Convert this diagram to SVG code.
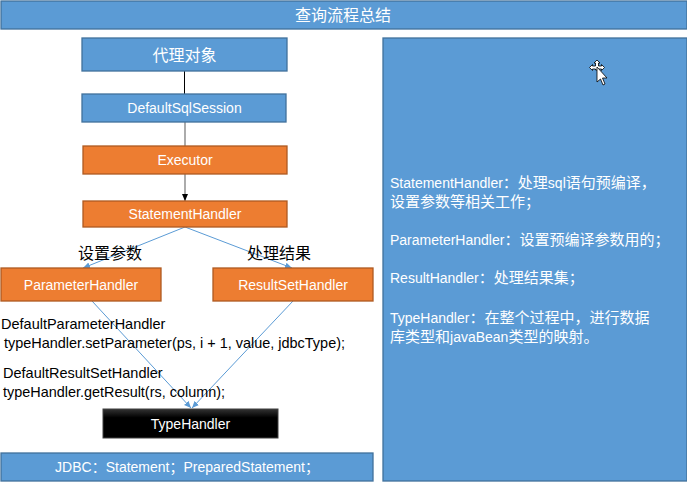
<svg xmlns="http://www.w3.org/2000/svg" width="687" height="482" viewBox="0 0 687 482">
<style>
text{font-family:"Liberation Sans","Noto Sans CJK SC",sans-serif;}
.blue{fill:#5B9BD5;stroke:#41719C;stroke-width:1.3;}
.orange{fill:#ED7D31;stroke:#AE5A21;stroke-width:1.3;}
.wt{fill:#fff;font-size:14px;text-anchor:middle;}
.cj{fill:#fff;font-size:16px;text-anchor:middle;font-family:"Noto Sans CJK SC",sans-serif;}
.bk{fill:#000;font-size:14.5px;}
.rt{fill:#fff;font-size:15px;font-family:"Noto Sans CJK SC",sans-serif;}
.lt{font-family:"Liberation Sans",sans-serif;font-size:14px;}
.conn{stroke:#5B9BD5;stroke-width:1;fill:none;}
</style>
<defs>
<marker id="ab" markerWidth="8" markerHeight="8" refX="7" refY="4" orient="auto" markerUnits="userSpaceOnUse">
<path d="M0,1 L7,4 L0,7 z" fill="#5B9BD5"/>
</marker>
<marker id="ak" markerWidth="8" markerHeight="8" refX="7" refY="4" orient="auto" markerUnits="userSpaceOnUse">
<path d="M0,1 L7,4 L0,7 z" fill="#000"/>
</marker>
<linearGradient id="tg" x1="0" y1="0" x2="0" y2="1">
<stop offset="0" stop-color="#333"/>
<stop offset="0.3" stop-color="#000"/>
<stop offset="1" stop-color="#000"/>
</linearGradient>
</defs>
<rect x="0" y="0" width="687" height="482" fill="#fff"/>
<g id="title">
<rect class="blue" x="1" y="1" width="686" height="28"/>
<text class="cj" x="343" y="21">查询流程总结</text>
</g>
<g id="connectors">
<line x1="184.5" y1="71" x2="184.5" y2="94" stroke="#000" stroke-width="1"/>
<line x1="185" y1="122" x2="185" y2="146" stroke="#7f7f7f" stroke-width="1.3"/>
<line x1="185" y1="174" x2="185" y2="201" stroke="#7f7f7f" stroke-width="1.3" marker-end="url(#ak)"/>
<line class="conn" x1="185" y1="227" x2="83" y2="268" marker-end="url(#ab)"/>
<line class="conn" x1="185" y1="227" x2="292" y2="268" marker-end="url(#ab)"/>
<line class="conn" x1="92" y1="301" x2="191" y2="408" marker-end="url(#ab)"/>
<line class="conn" x1="293" y1="301" x2="192" y2="408" marker-end="url(#ab)"/>
</g>
<g id="proxy">
<rect class="blue" x="82" y="38" width="205" height="33"/>
<text class="cj" x="184.5" y="61">代理对象</text>
</g>
<g id="sqlsession">
<rect class="blue" x="82" y="94" width="204" height="28"/>
<text class="wt" x="184.5" y="113">DefaultSqlSession</text>
</g>
<g id="executor">
<rect class="orange" x="83" y="146" width="204" height="28"/>
<text class="wt" x="185" y="165">Executor</text>
</g>
<g id="statementhandler">
<rect class="orange" x="83" y="201" width="204" height="26"/>
<text class="wt" x="185" y="219">StatementHandler</text>
</g>
<g id="label-set">
<text x="78" y="259" style="fill:#000;font-size:16px;font-family:'Noto Sans CJK SC',sans-serif">设置参数</text>
</g>
<g id="label-result">
<text x="247" y="259" style="fill:#000;font-size:16px;font-family:'Noto Sans CJK SC',sans-serif">处理结果</text>
</g>
<g id="parameterhandler">
<rect class="orange" x="1" y="268" width="160" height="33"/>
<text class="wt" x="81" y="290">ParameterHandler</text>
</g>
<g id="resultsethandler">
<rect class="orange" x="213" y="268" width="160" height="33"/>
<text class="wt" x="293" y="290">ResultSetHandler</text>
</g>
<g id="code">
<text class="bk" x="1" y="329">DefaultParameterHandler</text>
<text class="bk" x="4" y="348" textLength="341" lengthAdjust="spacingAndGlyphs">typeHandler.setParameter(ps, i + 1, value, jdbcType);</text>
<text class="bk" x="3" y="378">DefaultResultSetHandler</text>
<text class="bk" x="3" y="397" textLength="222" lengthAdjust="spacingAndGlyphs">typeHandler.getResult(rs, column);</text>
</g>
<g id="typehandler">
<rect x="103" y="409" width="175" height="29" fill="url(#tg)" stroke="#404040" stroke-width="1"/>
<text class="wt" x="190.5" y="429">TypeHandler</text>
</g>
<g id="jdbc">
<rect class="blue" x="1" y="453" width="372" height="28"/>
<text class="wt" x="187" y="472"><tspan>JDBC</tspan><tspan style="font-family:'Noto Sans CJK SC',sans-serif">：</tspan><tspan>Statement</tspan><tspan style="font-family:'Noto Sans CJK SC',sans-serif">；</tspan><tspan>PreparedStatement</tspan><tspan style="font-family:'Noto Sans CJK SC',sans-serif">；</tspan></text>
</g>
<g id="notes">
<rect class="blue" x="383" y="38" width="304" height="443"/>
<text class="rt" x="390" y="188"><tspan class="lt">StatementHandler</tspan>：处理<tspan class="lt">sql</tspan>语句预编译，</text>
<text class="rt" x="390" y="207">设置参数等相关工作；</text>
<text class="rt" x="390" y="245"><tspan class="lt">ParameterHandler</tspan>：设置预编译参数用的；</text>
<text class="rt" x="390" y="283"><tspan class="lt">ResultHandler</tspan>：处理结果集；</text>
<text class="rt" x="390" y="323"><tspan class="lt">TypeHandler</tspan>：在整个过程中，进行数据</text>
<text class="rt" x="390" y="342">库类型和<tspan class="lt">javaBean</tspan>类型的映射。</text>
</g>
<g id="cursor" stroke="#000" stroke-width="0.8">
<path d="M597,60 L600,63 L598.5,63 L598.5,66 L601.5,66 L601.5,64.5 L604.5,67.5 L601.5,70.5 L601.5,69 L598.5,69 L598.5,70 L597,70 L595.5,70 L595.5,69 L592.5,69 L592.5,70.5 L589.5,67.5 L592.5,64.5 L592.5,66 L595.5,66 L595.5,63 L594,63 z" fill="#fff"/>
<path d="M597,67 L597,82 L600.5,79 L603,85 L605,84 L602.5,78 L607,78 z" fill="#fff"/>
</g>
</svg>
